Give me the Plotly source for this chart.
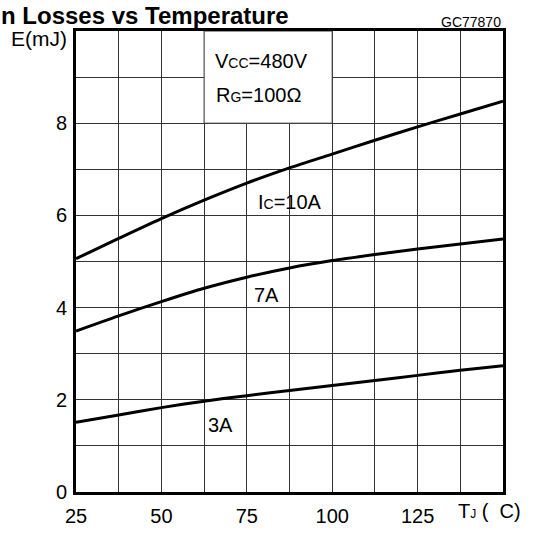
import plotly.graph_objects as go

# ---- data ----
tj = [25, 37.5, 50, 62.5, 75, 87.5, 100, 112.5, 125, 137.5, 150]
e_10a = [5.06, 5.50, 5.93, 6.33, 6.70, 7.03, 7.33, 7.63, 7.92, 8.20, 8.48]
e_7a = [3.49, 3.82, 4.13, 4.42, 4.66, 4.86, 5.02, 5.15, 5.27, 5.38, 5.49]
e_3a = [1.51, 1.67, 1.83, 1.97, 2.09, 2.20, 2.31, 2.42, 2.53, 2.64, 2.74]

x_tickvals = [25, 37.5, 50, 62.5, 75, 87.5, 100, 112.5, 125, 137.5, 150]
x_ticktext = ["25", "", "50", "", "75", "", "100", "", "125", "", ""]
y_tickvals = [0, 1, 2, 3, 4, 5, 6, 7, 8, 9, 10]
y_ticktext = ["0", "", "2", "", "4", "", "6", "", "8", "", ""]

FONT = "Liberation Sans, Arial, sans-serif"
W, H = 544, 539
ML, MR, MT, MB = 76, 41, 31, 38
PW, PH = W - ML - MR, H - MT - MB


def px(x):
    return (x - ML) / PW


def py(y):
    return 1 + (MT - y) / PH


fig = go.Figure()
for ys in (e_10a, e_7a, e_3a):
    fig.add_trace(go.Scatter(x=tj, y=ys, mode="lines",
                             line=dict(color="black", width=3, shape="spline", smoothing=0.8),
                             showlegend=False, hoverinfo="skip"))

# white box behind the condition text
fig.add_shape(type="rect", xref="x", yref="y", x0=62.5, x1=100, y0=8, y1=10,
              fillcolor="white", line=dict(color="#333", width=1), layer="between")

ann = []
ann.append(dict(text="<b>n Losses vs Temperature</b>", xref="paper", yref="paper",
                x=px(0), y=py(0), xanchor="left", yanchor="top", borderpad=0,
                font=dict(size=24, color="black", family=FONT), showarrow=False))
ann.append(dict(text="GC77870", xref="paper", yref="paper", x=px(503), y=py(22),
                xanchor="right", yanchor="middle",
                font=dict(size=14, color="black", family=FONT), showarrow=False))
ann.append(dict(text="E(mJ)", xref="paper", yref="paper", x=px(39), y=py(39),
                xanchor="center", yanchor="middle",
                font=dict(size=21, color="black", family=FONT), showarrow=False))
ann.append(dict(text="T<span style='font-size:12px'>J</span> (  C)", xref="paper", yref="paper",
                x=px(489), y=py(520), xanchor="center", yanchor="middle",
                font=dict(size=20, color="black", family=FONT), showarrow=False))
ann.append(dict(text="V<span style='font-size:14px'>CC</span>=480V", xref="x", yref="y",
                x=79.2, y=9.34, xanchor="center", yanchor="middle",
                font=dict(size=20, color="black", family=FONT), showarrow=False))
ann.append(dict(text="R<span style='font-size:14px'>G</span>=100\u03a9", xref="x", yref="y",
                x=78.3, y=8.62, xanchor="center", yanchor="middle",
                font=dict(size=20, color="black", family=FONT), showarrow=False))
ann.append(dict(text="I<span style='font-size:14px'>C</span>=10A", xref="x", yref="y",
                x=87.6, y=6.3, xanchor="center", yanchor="middle",
                font=dict(size=20, color="black", family=FONT), showarrow=False))
ann.append(dict(text="7A", xref="x", yref="y", x=80.9, y=4.28,
                xanchor="center", yanchor="middle",
                font=dict(size=20, color="black", family=FONT), showarrow=False))
ann.append(dict(text="3A", xref="x", yref="y", x=67.4, y=1.45,
                xanchor="center", yanchor="middle",
                font=dict(size=20, color="black", family=FONT), showarrow=False))

fig.update_layout(
    width=W, height=H,
    margin=dict(l=ML, r=MR, t=MT, b=MB, pad=0),
    paper_bgcolor="white", plot_bgcolor="white",
    font=dict(family=FONT, size=20, color="black"),
    annotations=ann,
    xaxis=dict(range=[25, 150], tickmode="array", tickvals=x_tickvals, ticktext=x_ticktext,
               showgrid=True, gridcolor="#333", gridwidth=1, zeroline=False,
               showline=True, linecolor="black", linewidth=3, mirror=True,
               ticks="", ticklen=0, ticklabelstandoff=4,
               tickfont=dict(size=20, family=FONT, color="black")),
    yaxis=dict(range=[0, 10], tickmode="array", tickvals=y_tickvals, ticktext=y_ticktext,
               showgrid=True, gridcolor="#333", gridwidth=1, zeroline=False,
               showline=True, linecolor="black", linewidth=3, mirror=True,
               ticks="", ticklen=0, ticklabelstandoff=2,
               tickfont=dict(size=20, family=FONT, color="black")),
)

fig.write_html("out.html")
